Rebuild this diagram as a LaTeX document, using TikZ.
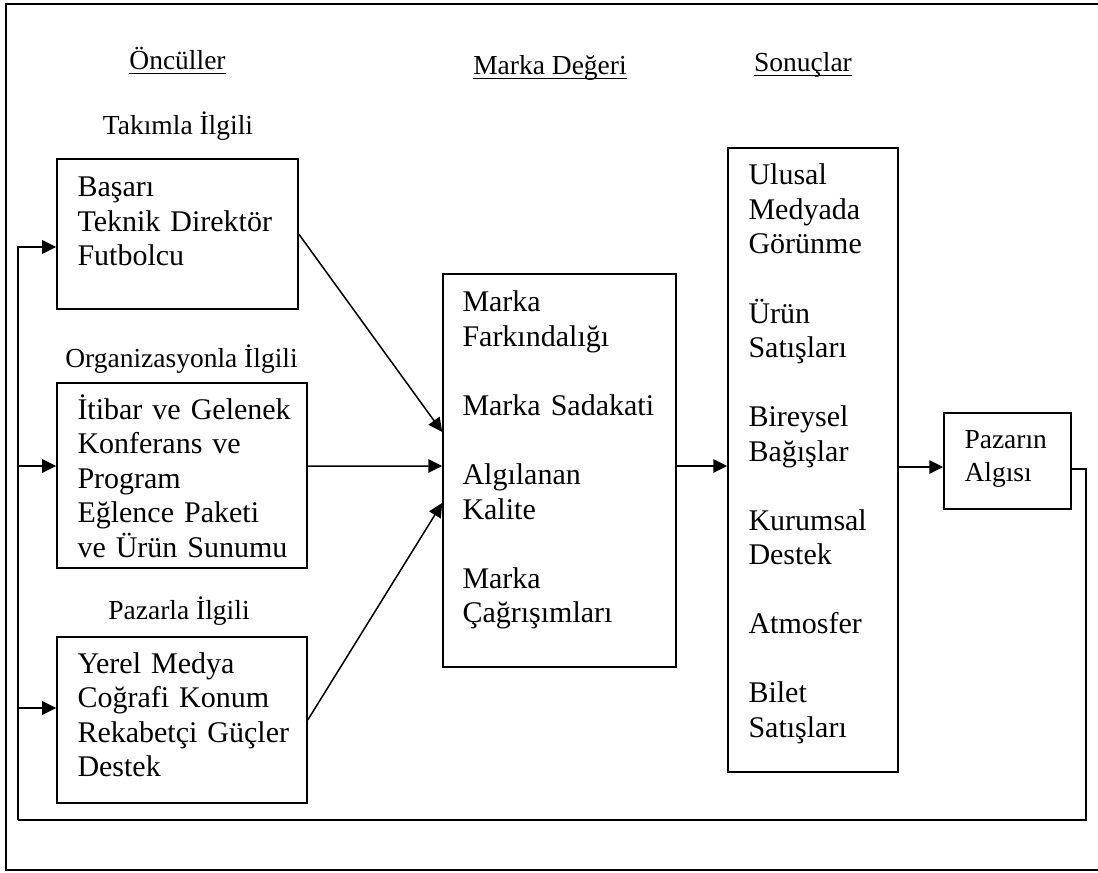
\documentclass[tikz,border=0pt]{standalone}
\usepackage{fontspec}
\setmainfont{Liberation Serif}
\usetikzlibrary{arrows.meta}

% underlined heading with a rule at a fixed distance below the baseline
\newcommand\headrule[1]{\setbox0\hbox{#1}\rlap{\rule[-1.7pt]{\wd0}{0.55pt}}\box0}

\tikzset{
  box/.style={draw, line width=0.6pt, rectangle, inner sep=0pt},
  body/.style={anchor=base west, inner sep=0pt, align=left, text width=120pt,
               font=\fontsize{12}{13.8}\selectfont},
  small/.style={anchor=base west, inner sep=0pt, align=left, text width=60pt,
               font=\fontsize{11}{13.2}\selectfont},
  head/.style={anchor=base, inner sep=0pt, font=\fontsize{11}{12.65}\selectfont},
  link/.style={line width=0.6pt},
  arr/.style={line width=0.6pt, -{Triangle[length=5.6pt,width=5.4pt]}},
}

\begin{document}
\begin{tikzpicture}[x=0.4pt,y=-0.4pt]
\useasboundingbox (0,0) rectangle (1098,872);

% page frame
\draw[line width=0.8pt] (1098,4) -- (6,4) -- (6,870) -- (1098,870);

% column headings
\node[head] (hA) at (177.5,70) {\headrule{Öncüller}};
\node[head] (hB) at (550,75) {\headrule{Marka Değeri}};
\node[head] (hC) at (803,72) {\headrule{Sonuçlar}};

% antecedent group titles
\node[head] (tA) at (178,135) {Takımla İlgili};
\node[head] (tB) at (181.5,367) {Organizasyonla İlgili};
\node[head] (tC) at (179,619) {Pazarla İlgili};

% boxes
\node[box, minimum width=96.4pt, minimum height=60pt]   (b1)  at (177.5,234) {};
\node[box, minimum width=100pt,  minimum height=74pt]   (b2)  at (182,475.5) {};
\node[box, minimum width=100pt,  minimum height=66.4pt] (b3)  at (182,720) {};
\node[box, minimum width=93.2pt, minimum height=157.2pt] (mid) at (559.5,470.5) {};
\node[box, minimum width=68pt,   minimum height=249.6pt] (res) at (813,460) {};
\node[box, minimum width=50.8pt, minimum height=38.4pt] (paz) at (1007.5,461) {};

% box contents
\node[body] (b1t) at (77,197) {Başarı\\Teknik Direktör\\Futbolcu};
\node[body] (b2t) at (77,419) {İtibar ve Gelenek\\Konferans ve\\Program\\Eğlence Paketi\\ve Ürün Sunumu};
\node[body] (b3t) at (77,673) {Yerel Medya\\Coğrafi Konum\\Rekabetçi Güçler\\Destek};
\node[body] (midt) at (462,312) {Marka\\Farkındalığı\\[13.8pt]Marka Sadakati\\[13.8pt]Algılanan\\Kalite\\[13.8pt]Marka\\Çağrışımları};
\node[body] (rest) at (748,185) {Ulusal\\Medyada\\Görünme\\[13.8pt]Ürün\\Satışları\\[13.8pt]Bireysel\\Bağışlar\\[13.8pt]Kurumsal\\Destek\\[13.8pt]Atmosfer\\[13.8pt]Bilet\\Satışları};
\node[small] (pazt) at (964,448) {Pazarın\\Algısı};

% connector ends
\path ([yshift=3.8pt]b2.east) coordinate (b2out)
      ([yshift=15.4pt]mid.west) coordinate (midA)
      ([yshift=1.8pt]mid.west) coordinate (midB)
      ([yshift=-13pt]mid.west) coordinate (midC)
      ([yshift=1.8pt]mid.east) coordinate (midout)
      ([yshift=-2.8pt]res.east) coordinate (resout)
      ([yshift=-3.2pt]paz.east) coordinate (pazout)
      ([yshift=-5.2pt]b1.west) coordinate (b1in)
      ([yshift=3.8pt]b2.west) coordinate (b2in)
      ([yshift=4.8pt]b3.west) coordinate (b3in);
\coordinate (fbR) at (1086,820);
\coordinate (fbL) at (18,820);

% antecedents to brand equity
\draw[arr] (b1.east) -- (midA);
\draw[arr] (b2out) -- (midB);
\draw[arr] (b3.east) -- (midC);

% brand equity to outcomes to market perception
\draw[arr] (midout) -- (midout -| res.west);
\draw[arr] (resout) -- (resout -| paz.west);

% feedback loop
\draw[link] (pazout) -| (fbR) -- (fbL);
\draw[arr] (fbL) |- (b1in);
\draw[arr] (fbL |- b2in) -- (b2in);
\draw[arr] (fbL |- b3in) -- (b3in);
\end{tikzpicture}
\end{document}
